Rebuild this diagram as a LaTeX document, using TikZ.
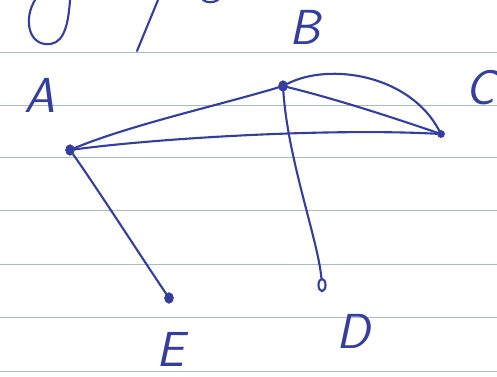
\documentclass[tikz,border=0pt]{standalone}
\usetikzlibrary{positioning,shapes.geometric}

\definecolor{pen}{RGB}{52,62,158}
\definecolor{ruling}{RGB}{165,190,190}

\tikzset{
  vertex/.style={ellipse,fill=pen,draw=pen,inner sep=0pt,minimum width=5pt,minimum height=6pt},
  edge/.style={draw=pen,line width=1.2pt,line cap=round},
  huruf/.style={text=pen,inner sep=0pt,font=\fontsize{28}{28}\selectfont\sffamily\slshape}
}

\begin{document}
\begin{tikzpicture}[x=0.02cm,y=-0.02cm]

      \useasboundingbox (0,0) rectangle (497,376);

      % Garis buku tulis
      \foreach \y in {52,105,157,210,264,317,371}
        \draw[ruling,line width=0.5pt] (0,\y) -- (497,\y);

      % Coretan terpotong di atas
      \draw[edge] (70,0) .. controls (68,30) and (62,46) .. (45,44)
                         .. controls (28,42) and (24,18) .. (35,0);
      \draw[edge] (158,0) -- (137,51);
      \draw[edge] (203,0) .. controls (207,3) and (213,3) .. (218,0);

      % Titik sudut graf
      \node[vertex] (A) at (70,150) {};
      \node[vertex] (B) at (283,86) {};
      \node[vertex,minimum width=4pt,minimum height=4pt] (C) at (441,134) {};
      \node[vertex,fill=none,line width=1.2pt,minimum width=4pt,minimum height=7pt] (D) at (322,285) {};
      \node[vertex] (E) at (169,298) {};

      % Sisi graf
      \draw[edge] (A) .. controls (130,125) and (220,105) .. (B);
      \draw[edge] (A) .. controls (160,138) and (330,128) .. (C);
      \draw[edge] (B) .. controls (330,62) and (410,75) .. (C);
      \draw[edge] (B) .. controls (340,100) and (400,120) .. (C);
      \draw[edge] (B) .. controls (288,160) and (318,240) .. (D);
      \draw[edge] (A) .. controls (95,185) and (140,255) .. (E);

      % Label titik
      \node[huruf] (lA) at (40,95) {A};
      \node[huruf] (lB) at (305,27) {B};
      \node[huruf] (lC) at (480,88) {C};
      \node[huruf] (lD) at (353,331) {D};
      \node[huruf] (lE) at (170,349) {E};

\end{tikzpicture}
\end{document}
